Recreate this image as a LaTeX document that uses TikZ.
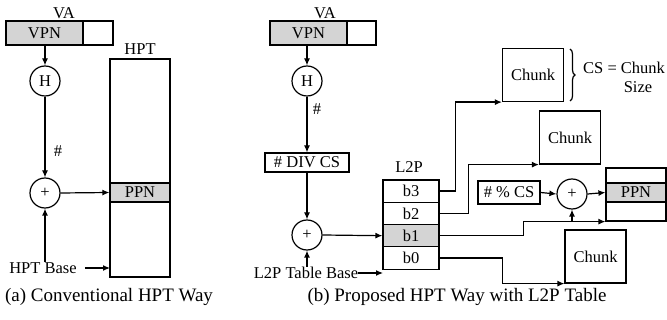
\documentclass[tikz,border=0pt]{standalone}
\usepackage{fontspec}
\setmainfont{Liberation Serif}
\usetikzlibrary{arrows.meta,decorations.pathreplacing}
\begin{document}
\begin{tikzpicture}[x=1pt,y=-1pt,
  every node/.style={font=\fontsize{16.5}{18}\selectfont, inner sep=0pt},
  caption/.style={font=\fontsize{19}{21}\selectfont},
  ln/.style={line width=1.2pt},
  arr/.style={ln,-{Latex[length=7pt,width=6pt]}},
  cell/.style={draw, line width=1.2pt, minimum width=#1},
  gray/.style={fill=black!17},
  circ/.style={draw, circle, line width=1.2pt, minimum size=30pt},
  chunk/.style={draw, line width=1.2pt, minimum width=61pt, minimum height=53pt}]
\useasboundingbox (0,0) rectangle (667,320);
% ---------- (a) ----------
\node (vaA) at (64,13) {VA};
\node[cell=77pt, minimum height=24pt, gray] (vpnA) at (44.5,33) {VPN};
\node[cell=30pt, minimum height=24pt] (offA) at (98,33) {};
\node[circ] (hA) at (45,81) {H};
\node[circ] (plusA) at (45,193) {+};
\node (hashA) at (58,151) {\#};
\node[cell=60pt, minimum height=218pt] (hpt) at (140,168) {};
\node[cell=60pt, minimum height=19pt, gray] (ppnA) at (140,192.5) {PPN};
\node (hptlbl) at (140,49) {HPT};
\node (hbase) at (43,268) {HPT Base};
\coordinate (hbaseend) at (110,268);
\draw[arr] (vpnA.south -| hA) -- (hA.north);
\draw[arr] (hA.south) -- (plusA.north);
\draw[arr] (plusA.east) -- (ppnA.west);
\draw[arr] (plusA |- hbase.north) -- (plusA.south);
\draw[arr] (hbase.east) ++(8,0) -- (hbaseend);
\node[caption] (capA) at (109,297) {(a) Conventional HPT Way};
% ---------- (b) ----------
\node (vaB) at (325,13) {VA};
\node[cell=77pt, minimum height=24pt, gray] (vpnB) at (308.5,33) {VPN};
\node[cell=29pt, minimum height=24pt] (offB) at (361.5,33) {};
\node[circ] (hB) at (307,81) {H};
\node (hashB) at (317,109) {\#};
\node[cell=84pt, minimum height=19pt] (div) at (307,162.5) {\# DIV CS};
\node[circ] (plusB) at (307,235) {+};
\node (lbase) at (306,273) {L2P Table Base};
\node (l2plbl) at (409,167) {L2P};
\node[cell=56pt, minimum height=22.3pt] (b3) at (411,191.1) {b3};
\node[cell=56pt, minimum height=22.3pt] (b2) at (411,213.4) {b2};
\node[cell=56pt, minimum height=22.3pt, gray] (b1) at (411,235.7) {b1};
\node[cell=56pt, minimum height=22.3pt] (b0) at (411,258) {b0};
\coordinate (lbaseend) at (383,273);
\node[chunk] (ch1) at (533,75) {Chunk};
\node[chunk] (ch2) at (570,137.5) {Chunk};
\node[chunk] (ch3) at (595.5,256.5) {Chunk};
\draw[ln, decorate, decoration={brace, amplitude=5pt}] (570,49) -- (570,101);
\node[anchor=west] (cs) at (583,68) {CS = Chunk};
\node (size) at (638,87) {Size};
\node[cell=62pt, minimum height=23pt] (mod) at (509,192.5) {\# \% CS};
\node[circ] (plusC) at (572,194) {+};
\node[cell=60pt, minimum height=53pt] (ppnT) at (636,194.5) {};
\node[cell=60pt, minimum height=19pt, gray] (ppnB) at (636,192.5) {PPN};
\draw[arr] (vpnB.south -| hB) -- (hB.north);
\draw[arr] (hB.south) -- (div.north);
\draw[arr] (div.south) -- (plusB.north);
\draw[arr] (plusB |- lbase.north) -- (plusB.south);
\draw[arr] (lbase.east) -- (lbaseend);
\draw[arr] (plusB.east) -- (b1.west);
\draw[arr] (b3.east) -- ++(16,0) |- (ch1.south west);
\draw[arr] (b2.east) -- ++(29,0) |- (ch2.south west);
\draw[arr] (b1.east) -- ++(84,0) |- (ppnT.south west);
\draw[arr] (plusC |- ppnT.south) -- (plusC.south);
\draw[arr] (b0.east) -- ++(63,0) |- (ch3.south west);
\draw[arr] (mod.east) -- (plusC.west);
\draw[arr] (plusC.east) -- (ppnB.west);
\node[caption] (capB) at (457,297) {(b) Proposed HPT Way with L2P Table};
\end{tikzpicture}
\end{document}
